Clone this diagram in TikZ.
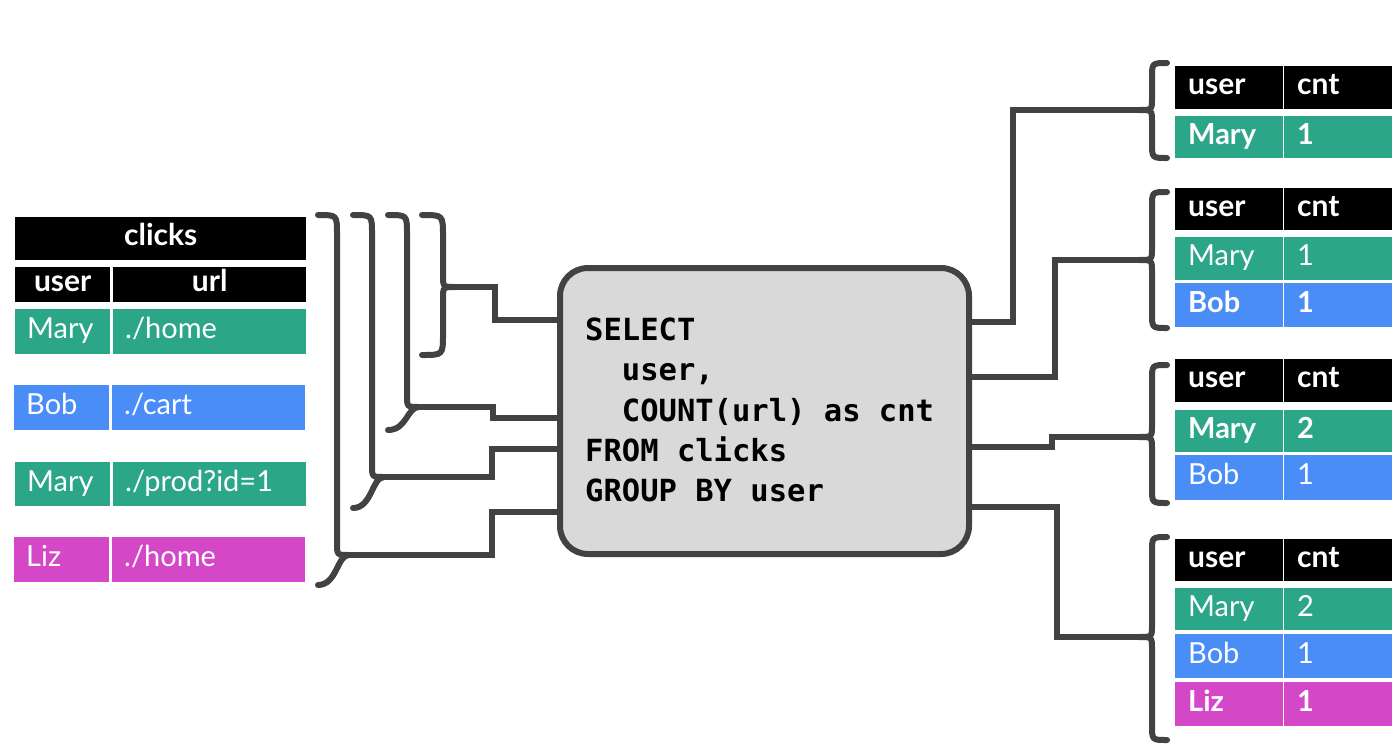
\documentclass[tikz,border=0pt]{standalone}
\usepackage{fontspec}
\setmainfont{Lato}
\newfontfamily\codefont{DejaVu Sans Mono}
\definecolor{cgreen}{RGB}{44,166,136}
\definecolor{cblue}{RGB}{74,141,246}
\definecolor{cmag}{RGB}{212,72,200}
\definecolor{boxfill}{RGB}{217,217,217}
\definecolor{linec}{RGB}{66,66,66}
\tikzset{
  conn/.style={draw=linec, line width=6pt, line cap=round},
  cell/.style={rectangle, anchor=north west, inner xsep=12pt, inner ysep=0pt,
     text height=20pt, text depth=6pt, text=white, align=left,
     font=\fontsize{29}{29}\selectfont},
  boldcell/.style={cell, font=\fontsize{29}{29}\selectfont\bfseries},
  hdr/.style={cell, fill=black, font=\fontsize{30}{30}\selectfont\bfseries},
  code/.style={anchor=base west, inner sep=0pt, font=\codefont\bfseries\fontsize{30.5}{30.5}\selectfont}
}
\begin{document}
\begin{tikzpicture}[x=1pt,y=-1pt]
\useasboundingbox (0,0) rectangle (1400,747);
\fill[white] (0,0) rectangle (1400,747);

% ---------- left table ----------
\node[hdr, align=center, text width=267pt, minimum height=43pt] (clicks) at (15,217) {clicks};
\node[hdr, align=center, text width=71pt, minimum height=35pt] (hu) at (15,267) {user};
\node[hdr, align=center, text width=169pt, minimum height=35pt] (hl) at (113,267) {url};
\node[cell, fill=cgreen, text width=71pt, minimum height=45pt] (r1u) at (15,309) {Mary};
\node[cell, fill=cgreen, text width=169pt, minimum height=45pt] (r1l) at (113,309) {./home};
\node[cell, fill=cblue, text width=71pt, minimum height=45pt] (r2u) at (14,385) {Bob};
\node[cell, fill=cblue, text width=169pt, minimum height=45pt] (r2l) at (112,385) {./cart};
\node[cell, fill=cgreen, text width=71pt, minimum height=44pt] (r3u) at (15,462) {Mary};
\node[cell, fill=cgreen, text width=169pt, minimum height=44pt] (r3l) at (113,462) {./prod?id=1};
\node[cell, fill=cmag, text width=71pt, minimum height=45pt] (r4u) at (14,537) {Liz};
\node[cell, fill=cmag, text width=169pt, minimum height=45pt] (r4l) at (112,537) {./home};

% ---------- SQL box ----------
\node[draw=linec, fill=boxfill, line width=6pt, rounded corners=28pt,
      minimum width=409pt, minimum height=286pt, inner sep=0pt] (sql) at (764.5,411) {};
\node[code] (c1) at (585,340) {SELECT};
\node[code] (c2) at (585,380) {\ \ user,};
\node[code] (c3) at (585,421) {\ \ COUNT(url) as cnt};
\node[code] (c4) at (585,461) {FROM clicks};
\node[code] (c5) at (585,501) {GROUP BY user};

% ---------- left braces ----------
\draw[conn] (422,215) .. controls (443,215) .. (443,236) -- (443,275)
   .. controls (443,287) .. (455,287) coordinate (b4)
   .. controls (443,287) .. (443,299) -- (443,334) .. controls (443,355) .. (422,355);
\draw[conn] (388,215) .. controls (407,215) .. (407,234) -- (407,395)
   .. controls (407,407) .. (419,407) coordinate (b3)
   .. controls (407,407) and (407,430) .. (388,430);
\draw[conn] (353,215) .. controls (372,215) .. (372,234) -- (372,465)
   .. controls (372,477) .. (384,477) coordinate (b2)
   .. controls (372,477) and (372,508) .. (353,508);
\draw[conn] (318,215) .. controls (337,215) .. (337,234) -- (337,543)
   .. controls (337,555) .. (349,555) coordinate (b1)
   .. controls (337,555) and (337,585) .. (318,585);

% ---------- left connectors ----------
\draw[conn, line cap=butt] (b4) -- (495,287) |- (sql.west |- 0,320);
\draw[conn, line cap=butt] (b3) -- (493,407) |- (sql.west |- 0,418);
\draw[conn, line cap=butt] (b2) -- (492,477) |- (sql.west |- 0,449);
\draw[conn, line cap=butt] (b1) -- (492,555) |- (sql.west |- 0,512);

% ---------- right braces ----------
\draw[conn] (1167,63) .. controls (1152,63) .. (1152,78) -- (1152,98)
   .. controls (1152,110) .. (1139,110) coordinate (t1)
   .. controls (1152,110) .. (1152,122) -- (1152,143) .. controls (1152,158) .. (1167,158);
\draw[conn] (1167,192) .. controls (1152,192) .. (1152,207) -- (1152,248)
   .. controls (1152,260) .. (1139,260) coordinate (t2)
   .. controls (1152,260) .. (1152,272) -- (1152,313) .. controls (1152,328) .. (1167,328);
\draw[conn] (1167,365) .. controls (1152,365) .. (1152,380) -- (1152,425)
   .. controls (1152,437) .. (1139,437) coordinate (t3)
   .. controls (1152,437) .. (1152,449) -- (1152,488) .. controls (1152,503) .. (1167,503);
\draw[conn] (1167,537) .. controls (1152,537) .. (1152,552) -- (1152,625)
   .. controls (1152,637) .. (1139,637) coordinate (t4)
   .. controls (1152,637) .. (1152,649) -- (1152,725) .. controls (1152,740) .. (1167,740);

% ---------- right connectors ----------
\draw[conn, line cap=butt] (sql.east |- 0,322) -- (1013,322) |- (t1);
\draw[conn, line cap=butt] (sql.east |- 0,377) -- (1055,377) |- (t2);
\draw[conn, line cap=butt] (sql.east |- 0,447) -- (1052,447) |- (t3);
\draw[conn, line cap=butt] (sql.east |- 0,507) -- (1057,507) |- (t4);

% ---------- right tables ----------
% T1
\node[hdr, text width=82pt, inner xsep=13pt, minimum height=43pt] (a1h1) at (1175,66) {user};
\node[hdr, text width=82pt, inner xsep=13pt, minimum height=43pt] (a1h2) at (1284,66) {cnt};
\node[boldcell, fill=cgreen, text width=82pt, inner xsep=13pt, minimum height=42pt] (a1m) at (1175,116) {Mary};
\node[boldcell, fill=cgreen, text width=82pt, inner xsep=13pt, minimum height=42pt] (a1mc) at (1284,116) {1};
% T2
\node[hdr, text width=82pt, inner xsep=13pt, minimum height=42pt] (a2h1) at (1175,188) {user};
\node[hdr, text width=82pt, inner xsep=13pt, minimum height=42pt] (a2h2) at (1284,188) {cnt};
\node[cell, fill=cgreen, text width=82pt, inner xsep=13pt, minimum height=43pt] (a2m) at (1175,237) {Mary};
\node[cell, fill=cgreen, text width=82pt, inner xsep=13pt, minimum height=43pt] (a2mc) at (1284,237) {1};
\node[boldcell, fill=cblue, text width=82pt, inner xsep=13pt, minimum height=44pt] (a2b) at (1175,283) {Bob};
\node[boldcell, fill=cblue, text width=82pt, inner xsep=13pt, minimum height=44pt] (a2bc) at (1284,283) {1};
% T3
\node[hdr, text width=82pt, inner xsep=13pt, minimum height=43pt] (a3h1) at (1175,359) {user};
\node[hdr, text width=82pt, inner xsep=13pt, minimum height=43pt] (a3h2) at (1284,359) {cnt};
\node[boldcell, fill=cgreen, text width=82pt, inner xsep=13pt, minimum height=42pt] (a3m) at (1175,410) {Mary};
\node[boldcell, fill=cgreen, text width=82pt, inner xsep=13pt, minimum height=42pt] (a3mc) at (1284,410) {2};
\node[cell, fill=cblue, text width=82pt, inner xsep=13pt, minimum height=45pt] (a3b) at (1175,455) {Bob};
\node[cell, fill=cblue, text width=82pt, inner xsep=13pt, minimum height=45pt] (a3bc) at (1284,455) {1};
% T4
\node[hdr, text width=82pt, inner xsep=13pt, minimum height=42pt] (a4h1) at (1175,539) {user};
\node[hdr, text width=82pt, inner xsep=13pt, minimum height=42pt] (a4h2) at (1284,539) {cnt};
\node[cell, fill=cgreen, text width=82pt, inner xsep=13pt, minimum height=42pt] (a4m) at (1175,588) {Mary};
\node[cell, fill=cgreen, text width=82pt, inner xsep=13pt, minimum height=42pt] (a4mc) at (1284,588) {2};
\node[cell, fill=cblue, text width=82pt, inner xsep=13pt, minimum height=44pt] (a4b) at (1175,634) {Bob};
\node[cell, fill=cblue, text width=82pt, inner xsep=13pt, minimum height=44pt] (a4bc) at (1284,634) {1};
\node[boldcell, fill=cmag, text width=82pt, inner xsep=13pt, minimum height=44pt] (a4l) at (1175,682) {Liz};
\node[boldcell, fill=cmag, text width=82pt, inner xsep=13pt, minimum height=44pt] (a4lc) at (1284,682) {1};
\end{tikzpicture}
\end{document}
